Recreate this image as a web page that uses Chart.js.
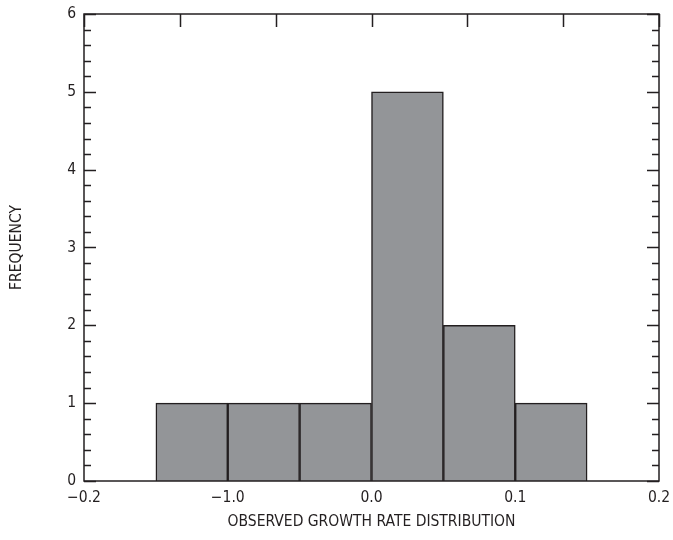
<!DOCTYPE html>
<html>
<head>
<meta charset="utf-8">
<script src="https://cdn.jsdelivr.net/npm/chart.js@4"></script>
<style>
  html, body { margin: 0; padding: 0; background: #fff; }
  #wrap { width: 673px; height: 540px; }
</style>
</head>
<body>
<div id="wrap"><canvas id="hist"></canvas></div>
<script>
// bin centres (width 0.05) and counts
const binCenters = [-0.125, -0.075, -0.025, 0.025, 0.075, 0.125];
const counts = [1, 1, 1, 5, 2, 1];
const xTickValues = [-0.2, -0.1, 0.0, 0.1, 0.2];
const xTickLabels = ['\u22120.2', '\u22121.0', '0.0', '0.1', '0.2'];
const topTickValues = [-0.2, -0.2 + 0.4 / 6, -0.2 + 0.8 / 6, 0, 0.2 - 0.8 / 6, 0.2 - 0.4 / 6, 0.2];
const yTickValues = [0, 1, 2, 3, 4, 5, 6];

const INK = '#231f20';
const FONT = "'Liberation Sans Narrow', 'DejaVu Sans Condensed', 'Roboto Condensed', sans-serif";

// frame + inward tick marks
const framePlugin = {
  id: 'frame',
  afterDatasetsDraw(chart) {
    const { ctx, chartArea: a, scales: { x, y } } = chart;
    ctx.save();
    ctx.strokeStyle = INK;
    ctx.lineWidth = 1.5;
    ctx.strokeRect(a.left, a.top, a.right - a.left, a.bottom - a.top);
    ctx.beginPath();
    for (let v = 0; v <= 6.0001; v += 0.2) {
      const py = Math.round(y.getPixelForValue(v)) + 0.5;
      const major = Math.abs(v - Math.round(v)) < 1e-6;
      const len = major ? 12 : 7;
      ctx.moveTo(a.left, py); ctx.lineTo(a.left + len, py);
      ctx.moveTo(a.right, py); ctx.lineTo(a.right - len, py);
    }
    topTickValues.forEach(v => {
      const px = Math.round(x.getPixelForValue(v)) + 0.5;
      ctx.moveTo(px, a.top); ctx.lineTo(px, a.top + 13);
    });
    ctx.stroke();
    ctx.restore();
  }
};

new Chart(document.getElementById('hist'), {
  type: 'bar',
  data: {
    datasets: [{
      data: binCenters.map((c, i) => ({ x: c, y: counts[i] })),
      backgroundColor: '#939598',
      borderColor: INK,
      borderWidth: 1.5,
      borderSkipped: 'start',
      barPercentage: 1,
      categoryPercentage: 1
    }]
  },
  options: {
    responsive: true,
    maintainAspectRatio: false,
    animation: false,
    layout: { padding: { top: 14, right: 14, left: 0, bottom: 0 } },
    plugins: { legend: { display: false }, tooltip: { enabled: false } },
    scales: {
      x: {
        type: 'linear',
        min: -0.2,
        max: 0.2,
        offset: false,
        grid: { display: false, drawTicks: false },
        border: { display: false },
        afterBuildTicks: s => { s.ticks = xTickValues.map(v => ({ value: v })); },
        afterFit: s => { s.height = 59; s.paddingLeft = 0; s.paddingRight = 0; },
        ticks: {
          color: INK,
          padding: 8,
          maxRotation: 0,
          font: { family: FONT, size: 15.5 },
          callback: (v, i) => xTickLabels[i]
        },
        title: {
          display: true,
          text: 'OBSERVED GROWTH RATE DISTRIBUTION',
          color: INK,
          padding: { top: 0, bottom: 9 },
          font: { family: FONT, size: 15.5 }
        }
      },
      y: {
        min: 0,
        max: 6,
        grid: { display: false, drawTicks: false },
        border: { display: false },
        afterBuildTicks: s => { s.ticks = yTickValues.map(v => ({ value: v })); },
        afterFit: s => { s.width = 84; s.paddingTop = 0; s.paddingBottom = 0; },
        ticks: {
          color: INK,
          padding: 8,
          font: { family: FONT, size: 15.5 }
        },
        title: {
          display: true,
          text: 'FREQUENCY',
          color: INK,
          padding: { top: 8, bottom: 0 },
          font: { family: FONT, size: 15.5 }
        }
      }
    }
  },
  plugins: [framePlugin]
});
</script>
</body>
</html>
